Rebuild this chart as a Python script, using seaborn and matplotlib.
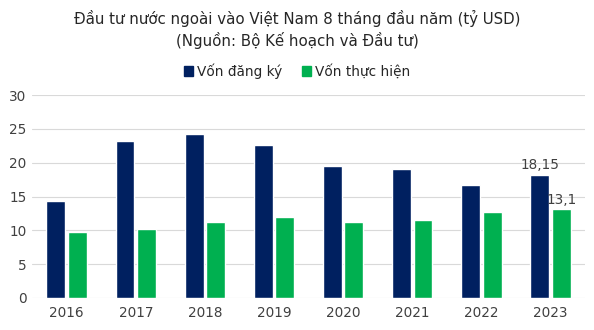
import matplotlib
matplotlib.use("Agg")
import matplotlib.pyplot as plt
import seaborn as sns
import pandas as pd

years = ["2016", "2017", "2018", "2019", "2020", "2021", "2022", "2023"]
registered = [14.4, 23.2, 24.3, 22.6, 19.5, 19.1, 16.7, 18.15]
disbursed = [9.7, 10.2, 11.2, 12.0, 11.3, 11.5, 12.75, 13.1]
series_names = ["Vốn đăng ký", "Vốn thực hiện"]
yticks = [0, 5, 10, 15, 20, 25, 30]

df = pd.DataFrame({
    "year": years * 2,
    "value": registered + disbursed,
    "series": [series_names[0]] * len(years) + [series_names[1]] * len(years),
})

sns.set_theme(style="white")
plt.rcParams["font.family"] = ["DejaVu Sans"]

fig = plt.figure(figsize=(5.94, 3.30), dpi=100)
ax = fig.add_axes([0.054, 0.097, 0.931, 0.615])

palette = {series_names[0]: "#002060", series_names[1]: "#00B050"}
sns.barplot(data=df, x="year", y="value", hue="series", palette=palette,
            width=0.62, gap=0.12, ax=ax, legend=False, saturation=1)

ax.set_ylim(0, 30)
ax.set_yticks(yticks)
ax.grid(axis="y", color="#D9D9D9", linewidth=0.8)
ax.set_axisbelow(True)
for s in ax.spines.values():
    s.set_visible(False)
ax.set_xlabel("")
ax.set_ylabel("")
ax.tick_params(axis="both", length=0, labelsize=9.8, colors="#404040")
ax.tick_params(axis="x", pad=6)
ax.tick_params(axis="y", pad=4)

# data labels for last year
conts = ax.containers
labels_last = ["18,15", "13,1"]
for cont, lab in zip(conts, labels_last):
    bar = cont.patches[-1]
    ax.text(bar.get_x() + bar.get_width() / 2, bar.get_height() + 0.4, lab,
            ha="center", va="bottom", fontsize=9.8, color="#404040")

fig.text(0.5, 0.945, "Đầu tư nước ngoài vào Việt Nam 8 tháng đầu năm (tỷ USD)",
         ha="center", va="center", fontsize=10.8, color="#262626")
fig.text(0.5, 0.878, "(Nguồn: Bộ Kế hoạch và Đầu tư)",
         ha="center", va="center", fontsize=10.8, color="#262626")

from matplotlib.patches import Patch
handles = [Patch(color=palette[n]) for n in series_names]
fig.legend(handles, series_names, loc="center", bbox_to_anchor=(0.5, 0.785),
           ncol=2, frameon=False, fontsize=9.8, handlelength=0.7, handleheight=0.7,
           handletextpad=0.3, columnspacing=1.4, labelcolor="#262626")

fig.savefig("out.png", dpi=100)
